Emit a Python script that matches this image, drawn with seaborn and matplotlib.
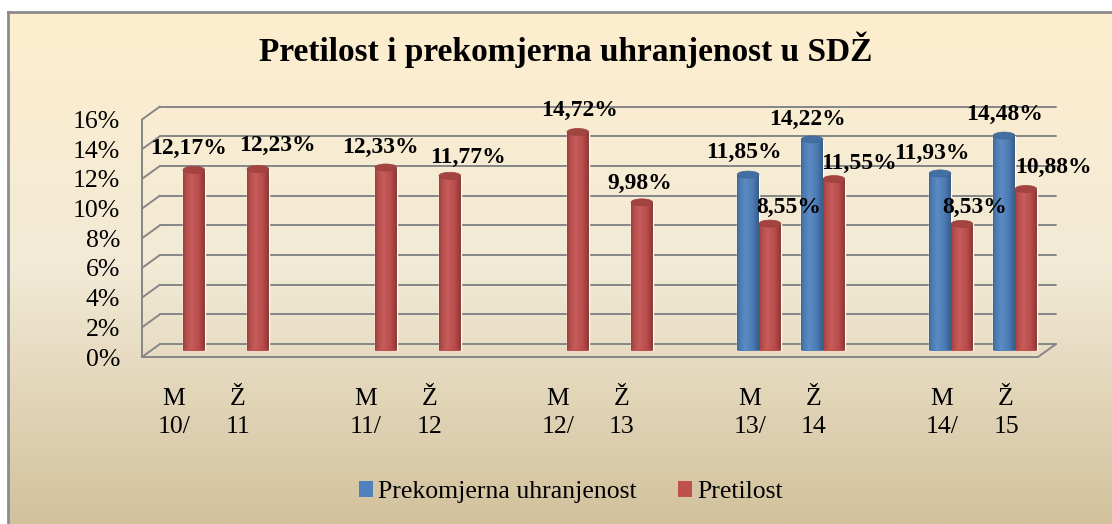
import numpy as np
import pandas as pd
import matplotlib
matplotlib.use("Agg")
import matplotlib.pyplot as plt
from matplotlib.patches import Ellipse, Patch
from matplotlib.colors import to_rgb
from matplotlib.transforms import ScaledTranslation
import seaborn as sns

# ---------------- data ----------------
title = "Pretilost i prekomjerna uhranjenost u SDŽ"
series = ["Prekomjerna uhranjenost", "Pretilost"]
categories = ["M\n10/", "Ž\n11", "M\n11/", "Ž\n12", "M\n12/", "Ž\n13",
              "M\n13/", "Ž\n14", "M\n14/", "Ž\n15"]
prekomjerna = [np.nan, np.nan, np.nan, np.nan, np.nan, np.nan,
               11.85, 14.22, 11.93, 14.48]
pretilost = [12.17, 12.23, 12.33, 11.77, 14.72, 9.98,
             8.55, 11.55, 8.53, 10.88]
yticks = [0, 2, 4, 6, 8, 10, 12, 14, 16]
ytick_labels = [f"{t}%" for t in yticks]

# label offsets (pixels) relative to each bar top: (dx, dy)
label_offsets = {
    ("Pretilost", 0): (-5, 21), ("Pretilost", 1): (20, 24),
    ("Pretilost", 2): (-5, 20), ("Pretilost", 3): (18, 18),
    ("Pretilost", 4): (2, 22), ("Pretilost", 5): (-2, 19),
    ("Pretilost", 6): (19, 16), ("Pretilost", 7): (25, 16),
    ("Pretilost", 8): (13, 16), ("Pretilost", 9): (28, 22),
    ("Prekomjerna uhranjenost", 6): (-4, 22),
    ("Prekomjerna uhranjenost", 7): (-5, 20),
    ("Prekomjerna uhranjenost", 8): (-8, 20),
    ("Prekomjerna uhranjenost", 9): (0, 21),
}

# ---------------- layout ----------------
W, H = 1112, 524
colors = ["#4F81BD", "#C0504D"]
SERIF = ["Liberation Serif", "DejaVu Serif"]

# slot order: pairs separated by one empty slot
slot_order = []
cat_slot = {}
for i, c in enumerate(categories):
    if i > 0 and i % 2 == 0:
        slot_order.append(" " * (i // 2))
    cat_slot[i] = len(slot_order)
    slot_order.append(c)
nslots = len(slot_order)
slot_cat = {v: k for k, v in cat_slot.items()}

rows = []
for i, c in enumerate(categories):
    rows.append((c, series[0], prekomjerna[i]))
    rows.append((c, series[1], pretilost[i]))
df = pd.DataFrame(rows, columns=["slot", "series", "value"]).dropna()

sns.set_theme(style="white")
plt.rcParams["font.family"] = SERIF
plt.rcParams["text.color"] = "black"
plt.rcParams["xtick.color"] = "black"
plt.rcParams["ytick.color"] = "black"

fig = plt.figure(figsize=(W / 100, H / 100), dpi=100)
fig.patch.set_facecolor("white")

# background frame with gradient
ax_bg = fig.add_axes([8 / W, 0, 1 - 8 / W, 1 - 12 / H], zorder=0)
stops = [(0.0, "#FEEECF"), (0.5, "#F2EAD6"), (1.0, "#D2C19C")]
t = np.linspace(0, 1, 256)
grad = np.zeros((256, 1, 3))
for k in range(3):
    grad[:, 0, k] = np.interp(t, [s[0] for s in stops], [to_rgb(s[1])[k] for s in stops])
ax_bg.imshow(grad, aspect="auto", extent=(0, 1, 0, 1), interpolation="bilinear")
ax_bg.set_xticks([]); ax_bg.set_yticks([])
for s in ["right", "bottom"]:
    ax_bg.spines[s].set_visible(False)
for s in ["left", "top"]:
    ax_bg.spines[s].set_color("#8C8C8C")
    ax_bg.spines[s].set_linewidth(2)

# main plot area (middle depth plane)
AX_L, AX_R = 151, 1047
Y0, Y16 = 350.5, 113.0
ax = fig.add_axes([AX_L / W, (H - Y0) / H, (AX_R - AX_L) / W, (Y0 - Y16) / H], zorder=2)
ax.set_facecolor("none")

sns.barplot(data=df, x="slot", y="value", hue="series", order=slot_order,
            hue_order=series, palette=colors, width=0.68, errorbar=None,
            legend=False, saturation=1, ax=ax, zorder=3)

px_x = (AX_R - AX_L) / nslots
px_y = (Y0 - Y16) / 16
ddx = 9 / px_x
ddy = 6.5 / px_y
xl, xr = -0.5, nslots - 0.5

# 3D-ish frame: back wall gridlines, left wall, floor
gcol = "#868686"
lw = 1.4
for v in yticks:
    ax.plot([xl + ddx, xr + ddx], [v + ddy, v + ddy], color=gcol, lw=lw, zorder=1, clip_on=False)
    ax.plot([xl - ddx, xl + ddx], [v - ddy, v + ddy], color=gcol, lw=lw, zorder=1, clip_on=False)
ax.plot([xl - ddx, xl - ddx], [-ddy, 16 - ddy], color=gcol, lw=lw, zorder=1, clip_on=False)
ax.plot([xl - ddx, xr - ddx], [-ddy, -ddy], color=gcol, lw=lw, zorder=1, clip_on=False)
ax.plot([xr - ddx, xr + ddx], [-ddy, ddy], color=gcol, lw=lw, zorder=1, clip_on=False)


def shade(c, f):
    r = np.array(to_rgb(c))
    return np.clip(r * f, 0, 1) if f <= 1 else np.clip(r + (1 - r) * (f - 1), 0, 1)


ell_h = 7 / px_y
for si, (sname, cont) in enumerate(zip(series, ax.containers)):
    base = colors[si]
    gx = np.linspace(0, 1, 64)
    gstops = [(0.0, shade(base, 0.80)), (0.12, shade(base, 0.95)), (0.38, shade(base, 1.08)),
              (0.7, shade(base, 0.97)), (1.0, shade(base, 0.72))]
    g = np.zeros((1, 64, 3))
    for k in range(3):
        g[0, :, k] = np.interp(gx, [s[0] for s in gstops], [s[1][k] for s in gstops])
    for bar in cont:
        x0 = bar.get_x(); w = bar.get_width(); h = bar.get_height()
        if not np.isfinite(h) or h == 0:
            continue
        cx = x0 + w / 2
        bar.set_zorder(3)
        im = ax.imshow(g, extent=(x0, x0 + w, 0, h), aspect="auto", zorder=4, interpolation="bilinear")
        im.set_clip_path(bar)
        bot = Ellipse((cx, 0), w, ell_h, facecolor=base, edgecolor="none", zorder=3)
        ax.add_patch(bot)
        im2 = ax.imshow(g, extent=(x0, x0 + w, -ell_h, ell_h), aspect="auto", zorder=4, interpolation="bilinear")
        im2.set_clip_path(bot)
        top = Ellipse((cx, h), w, ell_h, facecolor=shade(base, 0.85), edgecolor=shade(base, 0.8),
                      lw=0.5, zorder=5)
        ax.add_patch(top)
        idx = slot_cat.get(int(round(cx)))
        dx, dy = label_offsets.get((sname, idx), (0, 20))
        ax.annotate(f"{h:.2f}".replace(".", ",") + "%", xy=(cx, h), xytext=(dx, dy),
                    textcoords="offset pixels", ha="center", va="center",
                    fontsize=17, fontweight="bold", family=SERIF, color="black", zorder=6,
                    annotation_clip=False)

ax.set_xlim(xl, xr)
ax.set_ylim(0, 16)
for s in ax.spines.values():
    s.set_visible(False)
ax.set_xlabel(""); ax.set_ylabel("")

ax.set_yticks(yticks)
ax.set_yticklabels(ytick_labels, fontsize=18.5, family=SERIF, color="black")
ax.tick_params(axis="y", length=0, pad=31 * 0.72)
for lab in ax.get_yticklabels():
    lab.set_transform(lab.get_transform() + ScaledTranslation(0, -6.5 / 100, fig.dpi_scale_trans))

ax.set_xticks(range(nslots))
ax.set_xticklabels([s if s.strip() else "" for s in slot_order], fontsize=18.5, family=SERIF,
                   linespacing=1.35, color="black")
ax.tick_params(axis="x", length=0, pad=27)
for lab in ax.get_xticklabels():
    lab.set_transform(lab.get_transform() + ScaledTranslation(-9 / 100, 0, fig.dpi_scale_trans))

# title
fig.text(566 / W, 1 - 50 / H, title, ha="center", va="center", fontsize=24,
         fontweight="bold", family=SERIF, color="black")

# legend
handles = [Patch(facecolor=colors[0], edgecolor="none"), Patch(facecolor=colors[1], edgecolor="none")]
leg = fig.legend(handles, series, loc="center", bbox_to_anchor=(571 / W, 1 - 492 / H), ncol=2,
                 frameon=False, handlelength=0.55, handleheight=0.55, handletextpad=0.2,
                 columnspacing=1.6, prop={"family": SERIF, "size": 18.5})
for tx in leg.get_texts():
    tx.set_color("black")

fig.savefig("out.png", dpi=100)
